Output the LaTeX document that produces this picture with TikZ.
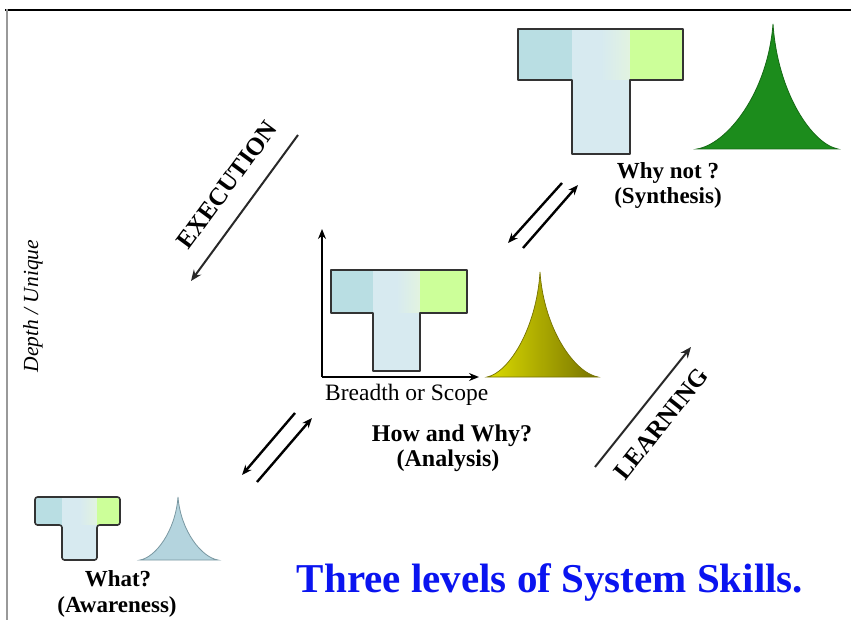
\documentclass[tikz,border=0pt]{standalone}
\usepackage{fontspec}
\setmainfont{Liberation Serif}
\usetikzlibrary{arrows.meta}
\definecolor{tteal}{HTML}{B9DEE3}
\definecolor{tlight}{HTML}{D7EAF0}
\definecolor{tpale}{HTML}{E2F3E0}
\definecolor{tgreen}{HTML}{CCFF99}
\definecolor{tline}{HTML}{333333}
\definecolor{sgreen}{HTML}{1C8C1C}
\definecolor{sgreenl}{HTML}{156A15}
\definecolor{syell}{HTML}{DCDC00}
\definecolor{syellm}{HTML}{CACA00}
\definecolor{solive}{HTML}{767200}
\definecolor{sblue}{HTML}{B4D4DE}
\definecolor{sbluel}{HTML}{7A98A2}
\definecolor{titleblue}{HTML}{0A14F0}
\definecolor{arrgray}{HTML}{282828}
\newcommand\Tshape[8]{% x0 s0 s1 x1 ytop ymid ybot extra
  \fill[tteal] (#1,#5) rectangle (#2,#6);
  \fill[tlight] (#2,#5) rectangle ({#2+0.5*(#3-#2)},#6);
  \shade[left color=tlight,right color=tpale] ({#2+0.5*(#3-#2)},#5) rectangle (#3,#6);
  \fill[tgreen] (#3,#5) rectangle (#4,#6);
  \fill[tlight] (#2,#6) rectangle (#3,#7);
  \draw[tline,line width=1.6pt,line join=round,#8] (#1,#5) -- (#4,#5) -- (#4,#6) -- (#3,#6) -- (#3,#7) -- (#2,#7) -- (#2,#6) -- (#1,#6) -- cycle;
}
\newcommand\Spike[6]{% x0 xp x1 ytop ybase style
  \path[#6] (#1,#5) .. controls ({#1+0.4*(#2-#1)},{#5-0.04*(#5-#4)}) and ({#2-0.07*(#2-#1)},{#5-0.45*(#5-#4)}) .. (#2,#4)
    .. controls ({#2+0.07*(#3-#2)},{#5-0.45*(#5-#4)}) and ({#3-0.4*(#3-#2)},{#5-0.04*(#5-#4)}) .. (#3,#5) -- cycle;
}
\tikzset{
  boldlabel/.style={font=\bfseries\fontsize{23}{27}\selectfont, inner sep=0pt, anchor=base},
  diaglabel/.style={font=\bfseries\fontsize{25}{29}\selectfont, inner sep=0pt},
  diagarrow/.style={draw=arrgray, line width=2pt, -{Stealth[length=11pt,width=9pt]}},
  dblarrow/.style={draw=black, line width=2.4pt, -{Stealth[length=10pt,width=8pt]}},
  axis/.style={draw=black, line width=2pt, -{Stealth[length=10pt,width=8pt]}},
}
\begin{document}
\begin{tikzpicture}[x=1pt,y=-1pt]
\useasboundingbox[fill=white] (0,0) rectangle (851,620);
% frame
\draw[line width=2.4pt,black] (5,10) -- (851,10);
\draw[line width=2.5pt,gray!80] (7,9) -- (7,620);

% T shapes
\Tshape{518}{572}{630}{683}{29}{80}{154}{}
\Tshape{331}{373}{420}{467}{270}{313}{371}{}
\Tshape{35}{62}{97}{120}{497}{525}{560}{rounded corners=2.5pt}

% spikes
\Spike{697}{773}{838}{24}{149}{fill=sgreen,draw=sgreenl,line width=0.8pt}
\Spike{487}{540}{598}{272}{377}{left color=syell,middle color=syell,right color=solive,draw=solive,line width=0.7pt}
\Spike{140}{178}{218}{497}{560}{fill=sblue,draw=sbluel,line width=0.8pt}

% axes
\coordinate (org) at (322,377);
\coordinate (ytip) at (322,229);
\coordinate (xtip) at (479,377);
\draw[axis] (org) -- (ytip);
\draw[axis] (org) -- (xtip);

% diagonal arrows
\coordinate (e1) at (298,135);
\coordinate (e2) at (191,281);
\draw[diagarrow] (e1) -- (e2);
\coordinate (l1) at (595,467);
\coordinate (l2) at (691,347);
\draw[diagarrow] (l1) -- (l2);

% double arrows lower
\coordinate (da1) at (295,413);
\coordinate (da2) at (242,475);
\coordinate (db1) at (257,482);
\coordinate (db2) at (312,418);
\draw[dblarrow] (da1) -- (da2);
\draw[dblarrow] (db1) -- (db2);
% double arrows upper
\coordinate (ua1) at (562,183);
\coordinate (ua2) at (508,243);
\coordinate (ub1) at (523,248);
\coordinate (ub2) at (578,185);
\draw[dblarrow] (ua1) -- (ua2);
\draw[dblarrow] (ub1) -- (ub2);

% texts
\node[diaglabel, rotate=53.6] (exec) at (227,185) {EXECUTION};
\node[diaglabel, rotate=51.4] (learn) at (661,424) {LEARNING};
\node[font=\itshape\fontsize{21.5}{24}\selectfont, rotate=90, inner sep=0pt] (depth) at (33,306) {Depth / Unique};
\node[font=\fontsize{23.5}{27}\selectfont, inner sep=0pt, anchor=base west] (breadth) at (325,400) {Breadth or Scope};
\node[boldlabel] (why1) at (668,179) {Why not ?};
\node[boldlabel] (why2) at (668,204) {(Synthesis)};
\node[boldlabel, font=\bfseries\fontsize{24}{28}\selectfont] (how1) at (452,441) {How and Why?};
\node[boldlabel, font=\bfseries\fontsize{24}{28}\selectfont] (how2) at (448,466) {(Analysis)};
\node[boldlabel] (what1) at (118,586) {What?};
\node[boldlabel] (what2) at (117,612) {(Awareness)};
\node[font=\bfseries\fontsize{41}{47}\selectfont, text=titleblue, inner sep=0pt, anchor=base] (title) at (550,592) {Three levels of System Skills.};
\end{tikzpicture}
\end{document}
